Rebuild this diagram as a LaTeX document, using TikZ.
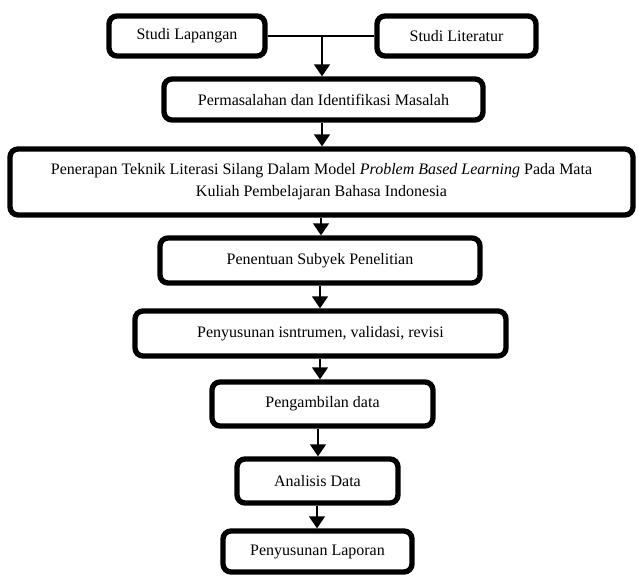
\documentclass[tikz,border=0pt]{standalone}
\usepackage{fontspec}
\setmainfont{Liberation Serif}
\usepackage{tikz}
\usetikzlibrary{positioning, arrows.meta}

\tikzset{
  box/.style={draw, line width=4pt, rounded corners=6pt, align=center,
    inner sep=2pt, font=\fontsize{12}{16.5}\selectfont},
  arr/.style={line width=1.1pt, -{Triangle[width=12pt,length=9pt]}}
}

\begin{document}
\begin{tikzpicture}[x=0.75pt, y=-0.75pt]
      \useasboundingbox (0,0) rectangle (638,575);
      \node[box, minimum width=117pt, minimum height=30pt] (lap) at (187,36) {Studi Lapangan};
      \node[box, minimum width=119.25pt, minimum height=30pt] (lit) at (456.5,36) {Studi Literatur};
      \node[box, minimum width=239.25pt, minimum height=30.75pt] (mas) at (323.5,99.5) {Permasalahan dan Identifikasi Masalah};
      \node[box, minimum width=467.25pt, minimum height=49.5pt] (pen) at (321.5,182) {Penerapan Teknik Literasi Silang Dalam Model \textit{Problem Based Learning} Pada Mata\\ Kuliah Pembelajaran Bahasa Indonesia};
      \node[box, minimum width=240pt, minimum height=33.75pt] (sub) at (320,260.5) {Penentuan Subyek Penelitian};
      \node[box, minimum width=278.25pt, minimum height=33.75pt] (ins) at (320.5,333.5) {Penyusunan isntrumen, validasi, revisi};
      \node[box, minimum width=165.75pt, minimum height=33pt] (amb) at (322.5,404) {Pengambilan data};
      \node[box, minimum width=120.75pt, minimum height=33pt] (ana) at (317.5,481) {Analisis Data};
      \node[box, minimum width=141.75pt, minimum height=30.75pt] (lap2) at (317.5,551.5) {Penyusunan Laporan};
      \coordinate (j) at (322,36);
      \draw[line width=1.1pt] (lap) -- (lit);
      \draw[arr] (j) -- (j |- mas.north);
      \draw[arr] (322,0 |- mas.south) -- (322,0 |- pen.north);
      \draw[arr] (321,0 |- pen.south) -- (321,0 |- sub.north);
      \draw[arr] (320,0 |- sub.south) -- (320,0 |- ins.north);
      \draw[arr] (320,0 |- ins.south) -- (320,0 |- amb.north);
      \draw[arr] (318,0 |- amb.south) -- (318,0 |- ana.north);
      \draw[arr] (317,0 |- ana.south) -- (317,0 |- lap2.north);
    \end{tikzpicture}
\end{document}
